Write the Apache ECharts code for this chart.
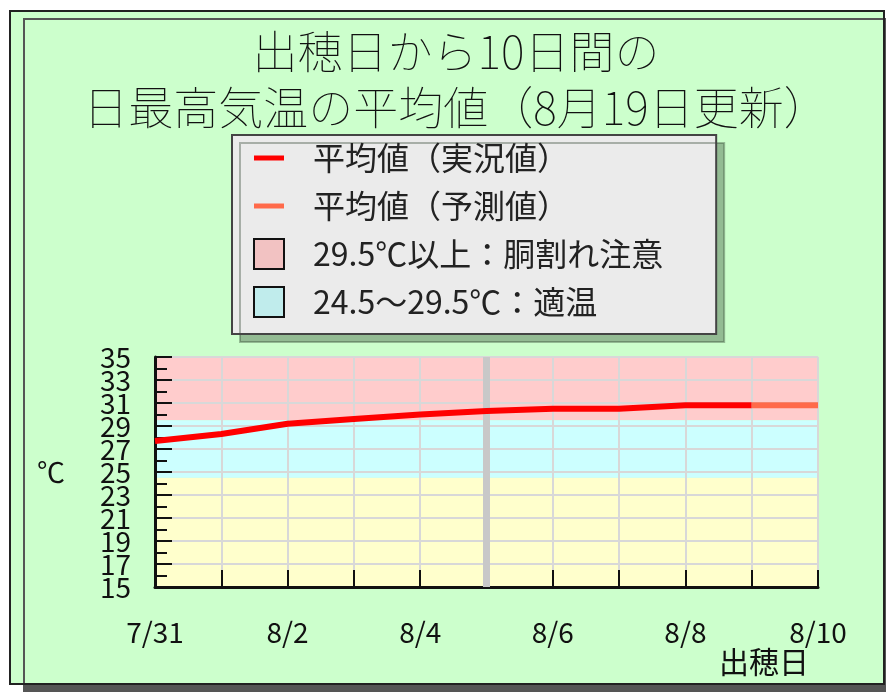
<!DOCTYPE html>
<html>
<head>
<meta charset="utf-8">
<script src="https://cdn.jsdelivr.net/npm/echarts@6/dist/echarts.min.js"></script>
<style>
  body { margin: 0; background: #fff; }
  #main { width: 886px; height: 692px; }
</style>
</head>
<body>
<div id="main"></div>
<script>
// 出穂日からの日付
var dates = ['7/31', '8/1', '8/2', '8/3', '8/4', '8/5', '8/6', '8/7', '8/8', '8/9', '8/10'];
// 平均値（実況値）
var actual = [27.7, 28.3, 29.2, 29.6, 30.0, 30.3, 30.5, 30.5, 30.8, 30.8, null];
// 平均値（予測値）
var forecast = [null, null, null, null, null, null, null, null, null, 30.8, 30.8];
// 温度帯の境界
var hotLimit = 29.5;
var goodLimit = 24.5;
var today = '8/5';
// 縦軸の範囲
var yMin = 15;
var yMax = 35;

var FONT = '"Noto Sans CJK JP", "Noto Sans", sans-serif';
// 凡例用の短い横線
var LINE_ICON = 'path://M0,0M30,30M0,12.5h30v5h-30z';

var chart = echarts.init(document.getElementById('main'));

var yLabel = { margin: 24, fontFamily: FONT, fontSize: 28, color: '#111', hideOverlap: false };

var option = {
  animation: false,
  textStyle: { fontFamily: FONT },
  graphic: [{
    type: 'rect',
    z: -100,
    shape: { x: 10, y: 11, width: 874, height: 673 },
    style: {
      fill: '#ccffcc', stroke: '#222', lineWidth: 2,
      shadowColor: '#555', shadowBlur: 0, shadowOffsetX: 14, shadowOffsetY: 8
    }
  }],
  title: {
    text: '出穂日から10日間の\n日最高気温の平均値（8月19日更新）',
    left: 456,
    top: 24,
    padding: 0,
    textAlign: 'center',
    textStyle: {
      fontFamily: FONT, fontSize: 45, fontWeight: 'lighter',
      lineHeight: 56, color: '#111'
    }
  },
  legend: {
    orient: 'vertical',
    left: 232,
    top: 135,
    padding: [7, 53, 16, 21],
    itemGap: 16,
    itemWidth: 30,
    itemHeight: 30,
    backgroundColor: '#ebebeb',
    borderColor: '#444',
    borderWidth: 2,
    shadowColor: 'rgba(40,60,40,0.35)',
    shadowBlur: 0,
    shadowOffsetX: 8,
    shadowOffsetY: 8,
    selectedMode: false,
    textStyle: { fontFamily: FONT, fontSize: 32, color: '#222', padding: [0, 0, 0, 24] },
    data: [
      { name: '平均値（実況値）', icon: LINE_ICON },
      { name: '平均値（予測値）', icon: LINE_ICON },
      { name: hotLimit + '℃以上：胴割れ注意', icon: 'rect',
        itemStyle: { color: '#f2c2c2', borderColor: '#111', borderWidth: 2 } },
      { name: goodLimit + '～' + hotLimit + '℃：適温', icon: 'rect',
        itemStyle: { color: '#c0ecec', borderColor: '#111', borderWidth: 2 } }
    ]
  },
  grid: { left: 155, right: 68, top: 357, bottom: 105, outerBoundsMode: 'none' },
  xAxis: {
    type: 'category',
    data: dates,
    boundaryGap: false,
    name: '\n\n出穂日',
    nameLocation: 'end',
    nameGap: -54,
    nameMoveOverlap: false,
    nameTextStyle: {
      fontFamily: FONT, fontSize: 30, color: '#111', lineHeight: 75,
      align: 'center', verticalAlign: 'middle'
    },
    axisLine: { lineStyle: { color: '#111', width: 3 } },
    axisTick: { inside: true, length: 17, interval: 0, lineStyle: { color: '#111', width: 2 } },
    axisLabel: { interval: 1, margin: 31, fontFamily: FONT, fontSize: 28, color: '#111' },
    splitLine: { show: true, interval: 0, lineStyle: { color: '#d8d8d8', width: 2 } }
  },
  yAxis: [
    {
      type: 'value',
      min: yMin,
      max: yMax,
      interval: 2,
      name: '℃',
      nameLocation: 'middle',
      nameRotate: 0,
      nameGap: 90,
      nameMoveOverlap: false,
      nameTextStyle: { fontFamily: FONT, fontSize: 28, color: '#111' },
      axisLine: { show: true, lineStyle: { color: '#111', width: 3 } },
      axisTick: { show: true, inside: true, length: 17, lineStyle: { color: '#111', width: 2 } },
      minorTick: { show: true, splitNumber: 2, length: 12, lineStyle: { color: '#111', width: 2 } },
      axisLabel: Object.assign({ showMinLabel: false, showMaxLabel: false }, yLabel),
      splitLine: { show: true, lineStyle: { color: '#d8d8d8', width: 2 } }
    },
    {
      // 端の目盛ラベル（15, 35）だけを描く軸
      type: 'value',
      position: 'left',
      min: yMin,
      max: yMax,
      interval: yMax - yMin,
      axisLine: { show: false },
      axisTick: { show: false },
      splitLine: { show: false },
      axisLabel: yLabel
    }
  ],
  series: [
    {
      name: '平均値（実況値）',
      type: 'line',
      data: actual,
      symbol: 'none',
      z: 3,
      lineStyle: { color: '#ff0000', width: 6 },
      itemStyle: { color: '#ff0000' },
      markLine: {
        z: 1,
        silent: true,
        symbol: ['none', 'none'],
        label: { show: false },
        lineStyle: { color: '#c8c8c8', width: 7, type: 'solid' },
        data: [{ xAxis: today }]
      },
      markArea: {
        z: -1,
        silent: true,
        itemStyle: { color: '#ffffcc' },
        data: [[{ yAxis: yMin }, { yAxis: goodLimit }]]
      }
    },
    {
      name: '平均値（予測値）',
      type: 'line',
      data: forecast,
      symbol: 'none',
      z: 3,
      lineStyle: { color: '#ff6a4a', width: 6 },
      itemStyle: { color: '#ff6a4a' }
    },
    {
      name: hotLimit + '℃以上：胴割れ注意',
      type: 'line',
      data: [],
      itemStyle: { color: '#ffcccc' },
      markArea: {
        z: -1,
        silent: true,
        itemStyle: { color: '#ffcccc' },
        data: [[{ yAxis: hotLimit }, { yAxis: yMax }]]
      }
    },
    {
      name: goodLimit + '～' + hotLimit + '℃：適温',
      type: 'line',
      data: [],
      itemStyle: { color: '#ccffff' },
      markArea: {
        z: -1,
        silent: true,
        itemStyle: { color: '#ccffff' },
        data: [[{ yAxis: goodLimit }, { yAxis: hotLimit }]]
      }
    }
  ]
};

chart.setOption(option);
</script>
</body>
</html>
